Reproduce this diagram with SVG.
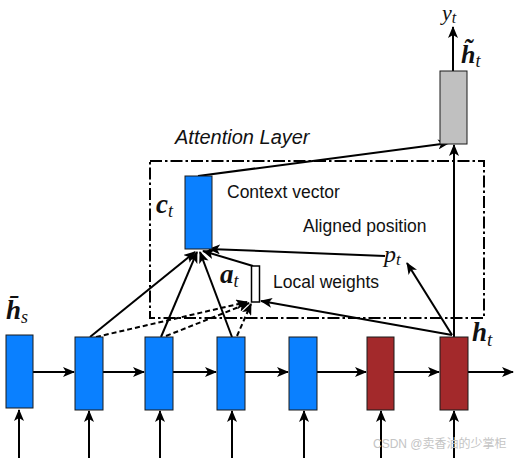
<svg xmlns="http://www.w3.org/2000/svg" width="516" height="460" viewBox="0 0 516 460">
<style>
.blue{fill:#0a80ff;stroke:#1a1a1a;stroke-width:1}
.red{fill:#a3292b;stroke:#1a1a1a;stroke-width:1}
.gray{fill:#c0c0c0;stroke:#1a1a1a;stroke-width:1}
.ln{stroke:#000;stroke-width:2;fill:none}
.dash{stroke:#000;stroke-width:2;fill:none;stroke-dasharray:5,3}
.frame{stroke:#000;stroke-width:2;fill:none;stroke-dasharray:12,3,2.5,3}
.lbl{font-family:"Liberation Sans",Arial,sans-serif;font-size:17.5px;fill:#111}
.math{font-family:"Liberation Serif","DejaVu Serif",serif;font-style:italic;fill:#111}
.bold{font-weight:bold}
</style>
<defs>
<marker id="ah" viewBox="0 0 12 10" refX="11" refY="5" markerWidth="12" markerHeight="10" markerUnits="userSpaceOnUse" orient="auto">
<path d="M0,0 L12,5 L0,10 L3,5 z" fill="#000"/>
</marker>
</defs>

<rect id="frame" class="frame" x="150" y="161" width="334" height="157"/>
<text class="lbl" x="175" y="144" style="font-style:italic;font-size:20px">Attention Layer</text>

<g id="connectors">
<line class="ln" x1="33" y1="372" x2="74" y2="372" marker-end="url(#ah)"/>
<line class="ln" x1="103" y1="372" x2="144" y2="372" marker-end="url(#ah)"/>
<line class="ln" x1="173" y1="372" x2="216" y2="372" marker-end="url(#ah)"/>
<line class="ln" x1="245" y1="372" x2="288" y2="372" marker-end="url(#ah)"/>
<line class="ln" x1="317" y1="372" x2="366" y2="372" marker-end="url(#ah)"/>
<line class="ln" x1="394" y1="372" x2="439" y2="372" marker-end="url(#ah)"/>
<line class="ln" x1="468" y1="372" x2="513" y2="372" marker-end="url(#ah)"/>
<line class="ln" x1="19" y1="458" x2="19" y2="410" marker-end="url(#ah)"/>
<line class="ln" x1="89" y1="458" x2="89" y2="411" marker-end="url(#ah)"/>
<line class="ln" x1="160" y1="458" x2="160" y2="411" marker-end="url(#ah)"/>
<line class="ln" x1="232" y1="458" x2="232" y2="411" marker-end="url(#ah)"/>
<line class="ln" x1="304" y1="458" x2="304" y2="411" marker-end="url(#ah)"/>
<line class="ln" x1="381" y1="458" x2="381" y2="411" marker-end="url(#ah)"/>
<line class="ln" x1="454" y1="458" x2="454" y2="411" marker-end="url(#ah)"/>
<line class="ln" x1="90" y1="337" x2="195" y2="252" marker-end="url(#ah)"/>
<line class="ln" x1="161" y1="337" x2="197" y2="252" marker-end="url(#ah)"/>
<line class="ln" x1="232" y1="337" x2="200" y2="252" marker-end="url(#ah)"/>
<line class="ln" x1="253" y1="266" x2="203" y2="251" marker-end="url(#ah)"/>
<line class="ln" x1="385" y1="256" x2="209" y2="249" marker-end="url(#ah)"/>
<line class="dash" x1="96" y1="337" x2="247" y2="302" marker-end="url(#ah)"/>
<line class="dash" x1="166" y1="336" x2="249" y2="303" marker-end="url(#ah)"/>
<line class="dash" x1="237" y1="336" x2="251" y2="304" marker-end="url(#ah)"/>
<line class="ln" x1="452" y1="335" x2="261" y2="301" marker-end="url(#ah)"/>
<line class="ln" x1="452" y1="335" x2="407" y2="263" marker-end="url(#ah)"/>
<line class="ln" x1="454" y1="337" x2="454" y2="145" marker-end="url(#ah)"/>
<line class="ln" x1="198" y1="176" x2="449" y2="143" marker-end="url(#ah)"/>
<line class="ln" x1="453" y1="71" x2="453" y2="27" marker-end="url(#ah)"/>
</g>

<g id="src1"><rect class="blue" x="6" y="335" width="27" height="73"/></g>
<g id="src2"><rect class="blue" x="75" y="337" width="28" height="73"/></g>
<g id="src3"><rect class="blue" x="145" y="337" width="28" height="73"/></g>
<g id="src4"><rect class="blue" x="217" y="337" width="28" height="73"/></g>
<g id="src5"><rect class="blue" x="289" y="337" width="28" height="73"/></g>
<g id="tgt1"><rect class="red" x="367" y="337" width="27" height="73"/></g>
<g id="tgt2"><rect class="red" x="440" y="337" width="28" height="73"/></g>
<g id="htilde"><rect class="gray" x="440" y="71" width="27" height="73"/></g>
<g id="ct"><rect class="blue" x="185" y="176" width="27" height="73"/></g>
<g id="at"><rect fill="#fff" stroke="#000" stroke-width="1.5" x="251.5" y="266" width="8" height="36"/></g>

<text class="lbl" x="227" y="198">Context vector</text>
<text class="lbl" x="303" y="232">Aligned position</text>
<text class="lbl" x="273" y="288">Local weights</text>

<text class="math" x="384" y="262" font-size="24">p<tspan font-size="17" dy="3">t</tspan></text>
<text class="math bold" x="156" y="213" font-size="27">c<tspan font-size="18" dy="4" font-weight="normal">t</tspan></text>
<text class="math bold" x="220" y="283" font-size="27">a<tspan font-size="18" dy="4" font-weight="normal">t</tspan></text>
<text class="math bold" x="472" y="341" font-size="27">h<tspan font-size="19" dy="5" font-weight="normal">t</tspan></text>
<text class="math bold" x="6" y="319" font-size="27">h̄<tspan font-size="18" dy="4" font-weight="normal">s</tspan></text>
<text class="math" x="442" y="20" font-size="22">y<tspan font-size="16" dy="3">t</tspan></text>
<text class="math bold" x="461" y="63" font-size="26">h̃<tspan font-size="18" dy="4" font-weight="normal">t</tspan></text>

<text x="373" y="448" font-family="'Liberation Sans','Noto Sans CJK SC',sans-serif" font-size="12" fill="#c4c4c4">CSDN @卖香油的少掌柜</text>
</svg>
